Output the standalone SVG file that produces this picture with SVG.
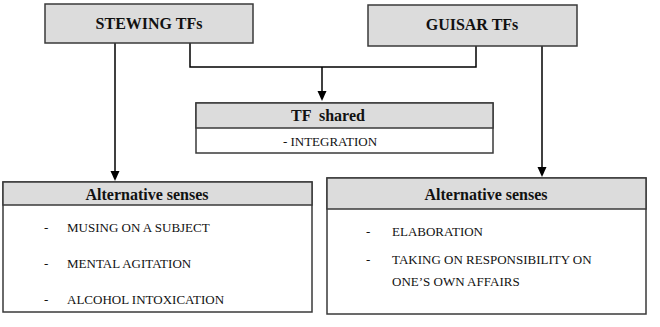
<svg xmlns="http://www.w3.org/2000/svg" width="660" height="327" viewBox="0 0 660 327">
<style>
.box{fill:#fff;stroke:#3a3a3a;stroke-width:1.5}
.hd{fill:#dcdcdc;stroke:#3a3a3a;stroke-width:1.5}
text{font-family:'Liberation Serif','Times New Roman','DejaVu Serif',serif;fill:#111}
.b{font-weight:bold;font-size:16px;text-anchor:middle}
.h{font-weight:bold;font-size:16px;text-anchor:middle}
.i{font-size:13px}
.c{fill:none;stroke:#000;stroke-width:1.5}
.ah{fill:#000}
</style>
<g id="connectors">
<path class="c" d="M115,43 V172"/>
<path class="c" d="M190,43 V67 H476 V46"/>
<path class="c" d="M322,67 V92"/>
<path class="c" d="M542,46 V168"/>
<path class="ah" d="M317.5,91 L326.5,91 L322,101 Z"/>
<path class="ah" d="M110.5,171 L119.5,171 L115,181 Z"/>
<path class="ah" d="M537.5,167 L546.5,167 L542,177 Z"/>
</g>
<g id="stewing">
<rect class="hd" x="45" y="4" width="208" height="39"/>
<text class="b" x="149" y="29">STEWING TFs</text>
</g>
<g id="guisar">
<rect class="hd" x="368" y="5" width="209" height="41"/>
<text class="b" x="472" y="30">GUISAR TFs</text>
</g>
<g id="shared">
<rect class="box" x="196" y="103" width="297" height="50"/>
<rect class="hd" x="196" y="103" width="297" height="25"/>
<text class="h" x="328" y="121" xml:space="preserve">TF  shared</text>
<text class="i" x="330" y="146" text-anchor="middle">- INTEGRATION</text>
</g>
<g id="alt-left">
<rect class="box" x="3" y="182" width="309" height="130"/>
<rect class="hd" x="3" y="182" width="309" height="23"/>
<text class="h" x="147" y="200">Alternative senses</text>
<text class="i" x="44" y="232">-</text>
<text class="i" x="67" y="232">MUSING ON A SUBJECT</text>
<text class="i" x="44" y="268">-</text>
<text class="i" x="67" y="268">MENTAL AGITATION</text>
<text class="i" x="44" y="304">-</text>
<text class="i" x="67" y="304">ALCOHOL INTOXICATION</text>
</g>
<g id="alt-right">
<rect class="box" x="327" y="178" width="319" height="136"/>
<rect class="hd" x="327" y="178" width="319" height="31"/>
<text class="h" x="486" y="200">Alternative senses</text>
<text class="i" x="366" y="236">-</text>
<text class="i" x="392" y="236">ELABORATION</text>
<text class="i" x="366" y="264">-</text>
<text class="i" x="392" y="264">TAKING ON RESPONSIBILITY ON</text>
<text class="i" x="392" y="286">ONE’S OWN AFFAIRS</text>
</g>
</svg>
